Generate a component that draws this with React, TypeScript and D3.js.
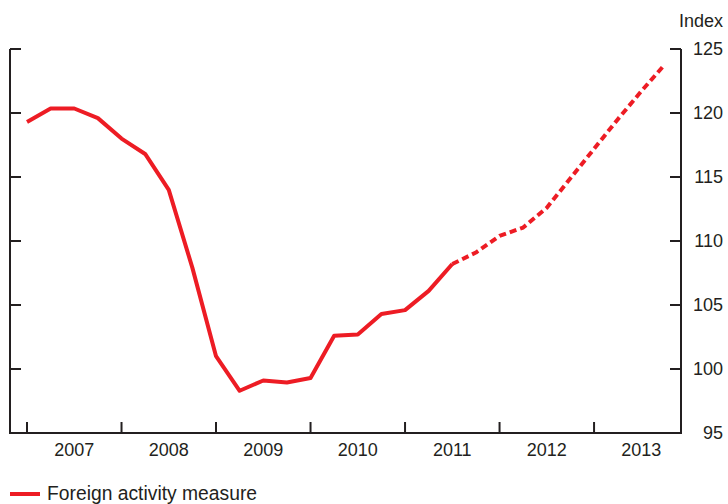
import React from "react";
import * as d3 from "d3";

const quarters: number[] = d3.range(28).map((i) => 2007 + i / 4);
const values: number[] = [
  119.3, 120.35, 120.35, 119.6, 118.0, 116.8, 114.0, 107.9,
  101.0, 98.3, 99.1, 98.95, 99.3, 102.6, 102.7, 104.3,
  104.6, 106.1, 108.2, 109.1, 110.4, 111.05, 112.6, 114.9,
  117.2, 119.5, 121.7, 123.8,
];
const forecastStart = 18;
const yearLabels: string[] = ["2007", "2008", "2009", "2010", "2011", "2012", "2013"];
const yTicks: number[] = [95, 100, 105, 110, 115, 120, 125];
const seriesName = "Foreign activity measure";
const unitLabel = "Index";

const W = 728;
const H = 504;
const left = 10;
const right = 681;
const top = 49;
const bottom = 433;
const RED = "#ed1c24";
const AXIS = "#231f20";
const FONT = "'Liberation Sans', Arial, Helvetica, sans-serif";

export default function App() {
  const x = d3.scaleLinear().domain([2006.82, 2013.92]).range([left, right]);
  const y = d3.scaleLinear().domain([95, 125]).range([bottom, top]);
  const solidIdx = d3.range(0, forecastStart + 1);
  const dashIdx = d3.range(forecastStart, values.length);
  const gen = d3
    .line<number>()
    .x((i) => x(quarters[i]))
    .y((i) => y(values[i]));
  const solidPath = gen(solidIdx);
  const dashPath = gen(dashIdx);
  const yearTicks = d3.range(2007, 2014);
  return (
    <svg
      width={W}
      height={H}
      style={{ position: "absolute", left: 0, top: 0, background: "#fff" }}
      fontFamily={FONT}
    >
      <line x1={left} x2={left} y1={top} y2={bottom} stroke={AXIS} strokeWidth={2} />
      <line x1={right} x2={right} y1={top} y2={bottom} stroke={AXIS} strokeWidth={2} />
      <line x1={left - 1} x2={right + 1} y1={bottom} y2={bottom} stroke={AXIS} strokeWidth={2} />
      {yTicks.map((t) => (
        <g key={t}>
          {t > 95 && (
            <>
              <line x1={left} x2={left + 11} y1={y(t)} y2={y(t)} stroke={AXIS} strokeWidth={2} />
              <line x1={right - 11} x2={right} y1={y(t)} y2={y(t)} stroke={AXIS} strokeWidth={2} />
            </>
          )}
          <text x={723} y={y(t) + 6} textAnchor="end" fontSize={18} fill={AXIS}>
            {t}
          </text>
        </g>
      ))}
      {yearTicks.map((yr) => (
        <line key={yr} x1={x(yr)} x2={x(yr)} y1={bottom - 11} y2={bottom} stroke={AXIS} strokeWidth={2} />
      ))}
      {yearLabels.map((lab, i) => (
        <text key={lab} x={x(2007.5 + i)} y={456} textAnchor="middle" fontSize={18} fill={AXIS}>
          {lab}
        </text>
      ))}
      <text x={723} y={27} textAnchor="end" fontSize={18} fill={AXIS}>
        {unitLabel}
      </text>
      <path d={solidPath ?? ""} fill="none" stroke={RED} strokeWidth={4} strokeLinejoin="round" />
      <path
        d={dashPath ?? ""}
        fill="none"
        stroke={RED}
        strokeWidth={4}
        strokeDasharray="7,4"
        strokeLinejoin="round"
      />
      <line x1={10} x2={40} y1={494} y2={494} stroke={RED} strokeWidth={4} />
      <text x={47} y={500} fontSize={19.3} fill={AXIS}>
        {seriesName}
      </text>
    </svg>
  );
}
